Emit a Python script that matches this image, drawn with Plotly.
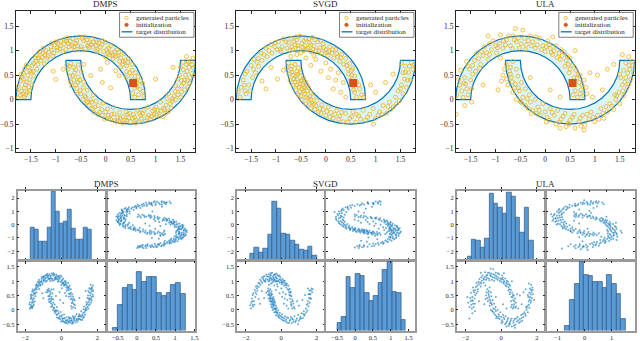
import plotly.graph_objects as go

W, H = 640, 341
SERIF = "Liberation Serif"
BLUE = "#0072BD"
ORANGE = "#EDB120"
RED = "#D95319"
FILL = "#dcf6f8"
BAR = "#5b9bd5"
BAR_EDGE = "#2b5885"
INK = "#262626"
FRAME = "#9a9a9a"

methods = ["DMPS", "SVGD", "ULA"]
legend_labels = ["generated particles", "initialization", "target distribution"]

# target distribution: outline of the two half-annuli
upper_moon_x = [0.8, 0.78, 0.722, 0.626, 0.496, 0.336, 0.15, -0.055, -0.274, -0.5, -0.726, -0.945, -1.15,
                -1.336, -1.496, -1.626, -1.722, -1.78, -1.8, -1.5, -1.485, -1.44, -1.366, -1.266, -1.143,
                -1.0, -0.842, -0.674, -0.5, -0.326, -0.158, 0.0, 0.143, 0.266, 0.366, 0.44, 0.485, 0.5, 0.8]
upper_moon_y = [0, 0.226, 0.445, 0.65, 0.836, 0.996, 1.126, 1.222, 1.28, 1.3, 1.28, 1.222, 1.126,
                0.996, 0.836, 0.65, 0.445, 0.226, 0, 0, 0.174, 0.342, 0.5, 0.643, 0.766,
                0.866, 0.94, 0.985, 1.0, 0.985, 0.94, 0.866, 0.766, 0.643, 0.5, 0.342, 0.174, 0, 0]
lower_moon_x = [-0.8, -0.78, -0.722, -0.626, -0.496, -0.336, -0.15, 0.055, 0.274, 0.5, 0.726, 0.945, 1.15,
                1.336, 1.496, 1.626, 1.722, 1.78, 1.8, 1.5, 1.485, 1.44, 1.366, 1.266, 1.143,
                1.0, 0.842, 0.674, 0.5, 0.326, 0.158, 0.0, -0.143, -0.266, -0.366, -0.44, -0.485, -0.5, -0.8]
lower_moon_y = [0.8, 0.574, 0.355, 0.15, -0.036, -0.196, -0.326, -0.422, -0.48, -0.5, -0.48, -0.422, -0.326,
                -0.196, -0.036, 0.15, 0.355, 0.574, 0.8, 0.8, 0.626, 0.458, 0.3, 0.157, 0.034,
                -0.066, -0.14, -0.185, -0.2, -0.185, -0.14, -0.066, 0.034, 0.157, 0.3, 0.458, 0.626, 0.8, 0.8]

init_x = [0.55]
init_y = [0.34]

# particles (x1, x2)
dmps_particles = [
    (-1.75, 0.04), (-1.60, 0.10), (-1.69, 0.17), (-1.53, 0.18), (-1.75, 0.27), (-1.61, 0.30), (-1.48, 0.30), (-1.65, 0.42),
    (-1.52, 0.41), (-1.65, 0.54), (-1.44, 0.48), (-1.52, 0.59), (-1.59, 0.71), (-1.38, 0.62), (-1.45, 0.74), (-1.36, 0.72),
    (-1.41, 0.85), (-1.23, 0.73), (-1.28, 0.86), (-1.32, 0.98), (-1.16, 0.88), (-1.20, 1.00), (-1.06, 0.89), (-1.09, 1.01),
    (-1.09, 1.15), (-0.97, 1.01), (-0.96, 1.15), (-0.86, 0.98), (-0.84, 1.13), (-0.83, 1.23), (-0.73, 1.08), (-0.71, 1.19),
    (-0.62, 1.01), (-0.60, 1.15), (-0.54, 1.28), (-0.50, 1.08), (-0.44, 1.20), (-0.41, 1.04), (-0.34, 1.15), (-0.28, 1.24),
    (-0.25, 1.07), (-0.18, 1.18), (-0.18, 0.98), (-0.11, 1.07), (0.00, 1.17), (-0.04, 0.98), (0.06, 1.05), (0.00, 0.87),
    (0.12, 0.95), (0.22, 1.02), (0.15, 0.84), (0.25, 0.90), (0.37, 0.94), (0.28, 0.78), (0.39, 0.80), (0.30, 0.67),
    (0.42, 0.69), (0.53, 0.72), (0.42, 0.57), (0.53, 0.60), (0.41, 0.46), (0.52, 0.48), (0.65, 0.47), (0.51, 0.37),
    (0.63, 0.34), (0.74, 0.33), (0.58, 0.23), (0.69, 0.21), (0.54, 0.13), (0.66, 0.10), (0.77, 0.07),
    (-1.66, 0.12), (-1.54, 0.26), (-1.70, 0.52), (-1.47, 0.70), (-1.34, 0.85), (-1.22, 0.92), (-1.10, 1.08), (-0.98, 1.06),
    (-0.90, 1.20), (-0.75, 1.15), (-0.66, 1.24), (-0.56, 1.10), (-0.38, 1.22), (-0.30, 1.12), (-0.20, 1.10), (-0.08, 1.12),
    (0.05, 0.95), (0.18, 0.98), (0.30, 0.85), (0.46, 0.84),
    (-1.71, 0.09), (-1.57, 0.15), (-1.63, 0.24), (-1.70, 0.38), (-1.56, 0.50), (-1.62, 0.64), (-1.49, 0.56), (-1.40, 0.78),
    (-1.26, 0.95), (-1.14, 0.97), (-1.02, 1.12), (-0.92, 1.04), (-0.79, 1.20), (-0.68, 1.10), (-0.47, 1.25), (-0.33, 1.07),
    (-0.14, 1.16), (0.08, 0.92), (0.20, 0.88), (0.35, 0.78),
    (-1.78, 0.20), (-1.63, 0.06), (-1.58, 0.36), (-1.68, 0.46), (-1.45, 0.58), (-1.55, 0.66), (-1.30, 0.80), (-1.38, 0.90),
    (-1.18, 0.84), (-1.25, 1.05), (-1.04, 0.95), (-1.00, 1.18), (-0.90, 1.10), (-0.80, 1.02), (-0.77, 1.26), (-0.64, 1.08),
    (-0.58, 1.20), (-0.50, 1.02), (-0.42, 1.28), (-0.36, 1.10), (-0.24, 1.18), (-0.16, 1.02), (-0.06, 1.20), (0.02, 1.02),
    (0.10, 1.10), (0.14, 0.90), (0.26, 0.96), (0.34, 0.72), (0.44, 0.76), (0.48, 0.55), (0.60, 0.55), (0.58, 0.40),
    (0.70, 0.38), (0.62, 0.27), (0.75, 0.17), (0.58, 0.05),
    (-1.05, 0.58), (-0.85, 0.62), (-1.00, 0.41), (-0.44, 0.72), (-0.30, 0.49), (-0.10, 0.62), (0.03, 0.76), (0.20, 0.59),
    (0.27, 0.49), (-0.07, 0.35), (0.10, 0.24), (1.00, 0.42), (1.35, 0.66), (1.62, 0.88), (1.75, 0.85),
    (-0.70, 0.74), (-0.55, 0.71), (-0.76, 0.62), (-0.60, 0.61), (-0.49, 0.57), (-0.66, 0.49), (-0.55, 0.46), (-0.70, 0.36),
    (-0.56, 0.35), (-0.44, 0.36), (-0.58, 0.23), (-0.45, 0.25), (-0.57, 0.11), (-0.37, 0.19), (-0.42, 0.08), (-0.46, 0.00),
    (-0.25, 0.10), (-0.30, 0.00), (-0.33, -0.12), (-0.19, -0.03), (-0.22, -0.15), (-0.24, -0.26), (-0.05, -0.07), (-0.08, -0.20),
    (-0.07, -0.32), (0.04, -0.19), (0.05, -0.32), (0.15, -0.16), (0.17, -0.29), (0.17, -0.43), (0.28, -0.26), (0.29, -0.38),
    (0.34, -0.48), (0.41, -0.25), (0.46, -0.37), (0.50, -0.45), (0.56, -0.30), (0.61, -0.42), (0.64, -0.22), (0.70, -0.33),
    (0.79, -0.44), (0.77, -0.22), (0.86, -0.32), (0.85, -0.15), (0.94, -0.23), (1.02, -0.32), (1.01, -0.15), (1.10, -0.23),
    (1.20, -0.28), (1.10, -0.05), (1.21, -0.11), (1.31, -0.17), (1.23, 0.02), (1.33, -0.03), (1.26, 0.12), (1.37, 0.07),
    (1.50, 0.05), (1.39, 0.17), (1.52, 0.16), (1.40, 0.28), (1.52, 0.28), (1.65, 0.26), (1.52, 0.39), (1.64, 0.39),
    (1.48, 0.50), (1.60, 0.50), (1.73, 0.54), (1.55, 0.61), (1.67, 0.66), (1.73, 0.71), (1.55, 0.76),
    (-0.62, 0.55), (-0.52, 0.40), (-0.68, 0.28), (-0.40, 0.05), (-0.28, -0.05), (-0.15, -0.12), (0.00, -0.25), (0.10, -0.40),
    (0.22, -0.45), (0.35, -0.35), (0.48, -0.28), (0.60, -0.48), (0.72, -0.38), (0.90, -0.40), (1.05, -0.22), (1.15, -0.35),
    (1.40, 0.00), (1.58, 0.40), (1.70, 0.78), (1.62, 0.72),
    (-0.73, 0.68), (-0.64, 0.40), (-0.51, 0.18), (-0.36, -0.04), (-0.12, -0.26), (0.06, -0.38), (0.26, -0.44), (0.42, -0.42),
    (0.54, -0.38), (0.68, -0.27), (0.83, -0.36), (0.97, -0.30), (1.16, -0.18), (1.29, -0.08), (1.45, 0.10), (1.58, 0.20),
    (1.69, 0.45), (1.45, 0.42), (1.63, 0.58), (1.76, 0.65),
    (-0.78, 0.70), (-0.64, 0.66), (-0.72, 0.48), (-0.60, 0.30), (-0.50, 0.12), (-0.38, -0.06), (-0.26, -0.18), (-0.16, -0.30),
    (-0.02, -0.40), (0.12, -0.30), (0.24, -0.36), (0.38, -0.42), (0.44, -0.30), (0.58, -0.36), (0.66, -0.45), (0.74, -0.28),
    (0.92, -0.34), (0.98, -0.20), (1.08, -0.34), (1.18, -0.20), (1.26, -0.25), (1.34, 0.02), (1.44, 0.22), (1.56, 0.34),
    (1.68, 0.34), (1.50, 0.66), (1.66, 0.76), (1.76, 0.48),
]

svgd_particles = [
    (-1.72, 0.05), (-1.60, 0.12), (-1.70, 0.25), (-1.55, 0.30), (-1.66, 0.40), (-1.47, 0.45), (-1.58, 0.58), (-1.41, 0.55),
    (-1.50, 0.70), (-1.35, 0.68), (-1.44, 0.82), (-1.28, 0.80), (-1.30, 0.95), (-1.18, 0.88), (-1.20, 1.05), (-1.08, 0.95),
    (-1.10, 1.12), (-0.98, 1.02), (-0.95, 1.18), (-0.88, 1.08), (-0.85, 1.24), (-0.78, 1.05), (-0.75, 1.16), (-0.70, 1.25),
    (-0.66, 1.02), (-0.62, 1.12), (-0.58, 1.22), (-0.55, 1.05), (-0.52, 1.30), (-0.48, 1.15), (-0.45, 1.00), (-0.42, 1.10),
    (-0.40, 1.24), (-0.36, 1.05), (-0.33, 1.16), (-0.30, 0.98), (-0.27, 1.27), (-0.24, 1.10), (-0.20, 1.00), (-0.16, 1.18),
    (-0.12, 1.06), (-0.08, 0.95), (-0.05, 1.14), (0.00, 1.02), (0.04, 0.90), (0.08, 1.08), (0.12, 0.95), (0.16, 0.85),
    (0.20, 1.02), (0.24, 0.88), (0.28, 0.78), (0.32, 0.92), (0.36, 0.72), (0.40, 0.84), (0.44, 0.62), (0.48, 0.74),
    (0.46, 0.52), (0.52, 0.60), (0.50, 0.40), (0.58, 0.48), (0.55, 0.28), (0.62, 0.36), (0.58, 0.15), (0.68, 0.22),
    (0.62, 0.05), (0.72, 0.10),
    (-0.64, 1.18), (-0.56, 1.10), (-0.44, 1.20), (-0.38, 1.02), (-0.30, 1.12), (-0.22, 1.22), (-0.14, 1.00), (-0.04, 1.06),
    (0.06, 0.98), (-0.50, 0.96), (-0.72, 1.00), (-0.90, 0.98), (-1.02, 1.08), (-1.36, 0.84), (-1.62, 0.18),
    (-1.76, 0.16), (-1.64, 0.30), (-1.52, 0.18), (-1.62, 0.52), (-1.45, 0.62), (-1.38, 0.76), (-1.24, 0.92), (-1.14, 1.00),
    (-1.02, 1.16), (-0.92, 1.02), (-0.80, 1.18), (-0.68, 1.08), (-0.60, 1.28), (-0.46, 1.06), (-0.34, 1.24), (-0.26, 1.02),
    (-0.10, 1.20), (0.02, 0.96), (0.14, 1.02), (0.22, 0.94), (0.30, 0.86), (0.42, 0.70), (0.54, 0.64), (0.52, 0.50),
    (0.66, 0.30), (0.56, 0.20), (0.76, 0.05), (-0.58, 0.92), (-0.24, 0.90), (-0.70, 0.88),
    (-1.28, 0.38), (-1.10, 0.66), (-0.97, 0.42), (-1.20, 0.22), (-0.85, 0.60),
    (-0.40, 0.85), (-0.20, 0.82), (0.00, 0.75), (-0.30, 0.70), (0.10, 0.62), (0.25, 0.55), (-0.10, 0.58), (0.20, 0.40),
    (0.05, 0.45), (0.35, 0.35), (0.15, 0.22), (0.30, 0.15), (0.40, 0.05), (0.90, 0.30), (1.00, 0.15), (1.20, 0.35),
    (1.35, 0.52),
    (-0.75, 0.75), (-0.62, 0.72), (-0.70, 0.62), (-0.55, 0.65), (-0.65, 0.50), (-0.52, 0.55), (-0.72, 0.40), (-0.58, 0.42),
    (-0.45, 0.45), (-0.66, 0.30), (-0.52, 0.32), (-0.40, 0.36), (-0.60, 0.20), (-0.47, 0.22), (-0.35, 0.25), (-0.55, 0.10),
    (-0.42, 0.12), (-0.30, 0.15), (-0.48, 0.00), (-0.36, 0.03), (-0.25, 0.06), (-0.40, -0.08), (-0.28, -0.06), (-0.18, -0.02),
    (-0.30, -0.18), (-0.20, -0.12), (-0.08, -0.10), (-0.15, -0.25), (-0.05, -0.20), (0.05, -0.15), (0.00, -0.32), (0.10, -0.26),
    (0.15, -0.38), (0.22, -0.22), (0.28, -0.34), (0.35, -0.45), (0.40, -0.28), (0.48, -0.38), (0.55, -0.25), (0.60, -0.46),
    (0.66, -0.33), (0.75, -0.22), (0.80, -0.42), (0.88, -0.30), (0.95, -0.18), (1.00, -0.38), (1.08, -0.25), (1.15, -0.12),
    (1.22, -0.28), (1.28, -0.05), (1.35, -0.15), (1.40, 0.05), (1.48, -0.02), (1.45, 0.18), (1.55, 0.12), (1.52, 0.30),
    (1.62, 0.25), (1.58, 0.42), (1.70, 0.40), (1.55, 0.55), (1.66, 0.55), (1.75, 0.62), (1.60, 0.68), (1.72, 0.75),
    (1.52, 0.75),
    (-0.58, 0.58), (-0.46, 0.30), (-0.38, 0.18), (-0.33, -0.08), (-0.62, 0.36), (-0.50, 0.08), (0.96, -0.50),
    (-0.68, 0.56), (-0.60, 0.48), (-0.54, 0.26), (-0.44, 0.18), (-0.50, 0.38), (-0.38, 0.30), (-0.32, 0.06), (-0.24, -0.10),
    (-0.12, -0.18), (0.02, -0.24), (0.18, -0.30), (0.32, -0.26), (0.52, -0.34), (0.70, -0.40), (1.05, -0.32), (1.30, -0.20),
    (-0.78, 0.66), (-0.68, 0.68), (-0.74, 0.52), (-0.64, 0.42), (-0.56, 0.52), (-0.48, 0.40), (-0.58, 0.30), (-0.44, 0.26),
    (-0.52, 0.16), (-0.40, 0.04), (-0.30, 0.00), (-0.22, -0.20), (-0.10, -0.28), (0.08, -0.36), (0.26, -0.40), (0.44, -0.46),
    (0.62, -0.30), (0.84, -0.36), (1.12, -0.30), (1.25, -0.14), (1.42, -0.08), (1.50, 0.22), (1.64, 0.40), (1.68, 0.68),
    (1.60, 0.56), (1.78, 0.72),
]

ula_particles = [
    (-1.78, 0.10), (-1.65, 0.05), (-1.72, 0.30), (-1.58, 0.22), (-1.85, 0.25), (-1.62, 0.45), (-1.50, 0.40), (-1.70, 0.60),
    (-1.52, 0.62), (-1.40, 0.58), (-1.58, 0.78), (-1.42, 0.80), (-1.30, 0.72), (-1.38, 0.95), (-1.25, 0.90), (-1.15, 0.82),
    (-1.22, 1.08), (-1.08, 1.02), (-0.98, 0.95), (-1.05, 1.20), (-0.92, 1.15), (-0.85, 1.05), (-0.90, 1.32), (-0.78, 1.22),
    (-0.70, 1.10), (-0.65, 1.30), (-0.58, 1.18), (-0.52, 1.05), (-0.45, 1.42), (-0.42, 1.25), (-0.38, 1.12), (-0.30, 1.30),
    (-0.25, 1.18), (-0.20, 1.05), (-0.12, 1.25), (-0.05, 1.10), (0.00, 0.98), (0.05, 1.20), (0.10, 1.05), (0.15, 0.92),
    (0.22, 1.10), (0.28, 0.95), (0.30, 0.82), (0.38, 0.98), (0.42, 0.80), (0.40, 0.68), (0.50, 0.85), (0.55, 0.70),
    (0.48, 0.55), (0.62, 0.60), (0.58, 0.45), (0.70, 0.50), (0.55, 0.30), (0.68, 0.35), (0.78, 0.40), (0.60, 0.18),
    (0.72, 0.20), (0.82, 0.25), (0.65, 0.05), (0.78, 0.08),
    (-1.68, 0.18), (-1.55, 0.10), (-1.64, 0.34), (-1.46, 0.52), (-1.34, 0.84), (-1.18, 0.96), (-1.00, 1.10), (-0.80, 1.12),
    (-0.62, 1.22), (-0.48, 1.14), (-0.34, 1.20), (-0.16, 1.12), (0.02, 1.08), (0.18, 1.00), (0.34, 0.90), (0.46, 0.72),
    (0.64, 0.44), (0.70, 0.12),
    (-1.74, 0.42), (-1.60, 0.32), (-1.48, 0.22), (-1.56, 0.68), (-1.46, 0.70), (-1.32, 0.64), (-1.28, 0.98), (-1.12, 0.92),
    (-1.12, 1.14), (-0.96, 1.06), (-0.84, 1.20), (-0.74, 1.30), (-0.66, 1.04), (-0.54, 1.26), (-0.40, 1.02), (-0.28, 1.10),
    (-0.18, 1.28), (-0.08, 1.02), (0.08, 1.12), (0.12, 0.96), (0.24, 0.86), (0.32, 1.02), (0.44, 0.90), (0.50, 0.62),
    (0.66, 0.52), (0.74, 0.30), (0.56, 0.10), (0.84, 0.12),
    (-1.79, -0.30), (-1.62, -0.12), (-1.48, -0.05), (-1.90, 0.45), (-1.25, 0.30), (-0.88, 0.38), (-1.15, 1.30), (-0.60, 1.45),
    (0.15, 1.28), (0.60, 1.00), (0.90, 0.55), (0.95, 0.05),
    (-0.78, 0.72), (-0.65, 0.78), (-0.72, 0.58), (-0.58, 0.62), (-0.85, 0.50), (-0.68, 0.45), (-0.55, 0.48), (-0.75, 0.30),
    (-0.60, 0.32), (-0.48, 0.35), (-0.65, 0.15), (-0.52, 0.18), (-0.40, 0.22), (-0.58, 0.00), (-0.45, 0.05), (-0.32, 0.10),
    (-0.40, -0.12), (-0.30, -0.05), (-0.20, 0.00), (-0.25, -0.22), (-0.15, -0.15), (-0.05, -0.08), (-0.10, -0.32), (0.00, -0.25),
    (0.10, -0.18), (0.08, -0.42), (0.18, -0.32), (0.25, -0.22), (0.22, -0.50), (0.32, -0.40), (0.40, -0.28), (0.42, -0.55),
    (0.50, -0.42), (0.58, -0.30), (0.60, -0.58), (0.68, -0.45), (0.75, -0.32), (0.80, -0.52), (0.88, -0.40), (0.92, -0.25),
    (1.00, -0.45), (1.05, -0.32), (1.12, -0.18), (1.18, -0.38), (1.25, -0.25), (1.30, -0.08), (1.38, -0.20), (1.42, 0.00),
    (1.50, -0.08), (1.48, 0.15), (1.58, 0.08), (1.55, 0.30), (1.65, 0.25), (1.52, 0.45), (1.62, 0.45), (1.72, 0.42),
    (1.58, 0.60), (1.70, 0.62), (1.78, 0.55), (1.62, 0.75), (1.75, 0.78),
    (-0.70, 0.52), (-0.62, 0.24), (-0.50, -0.04), (-0.34, -0.18), (-0.18, -0.28), (0.04, -0.36), (0.28, -0.46), (0.48, -0.50),
    (0.70, -0.38), (0.96, -0.36), (1.22, -0.14), (1.44, 0.08), (1.60, 0.36), (1.68, 0.70),
    (-0.82, 0.62), (-0.70, 0.66), (-0.78, 0.42), (-0.66, 0.36), (-0.54, 0.24), (-0.48, -0.06), (-0.36, 0.02), (-0.28, -0.28),
    (-0.12, -0.22), (0.02, -0.46), (0.14, -0.26), (0.36, -0.34), (0.46, -0.48), (0.54, -0.36), (0.72, -0.54), (0.84, -0.30),
    (1.08, -0.40), (1.16, -0.28), (1.34, -0.14), (1.40, 0.10), (1.56, 0.18), (1.68, 0.32), (1.76, 0.70), (1.66, 0.54),
    (1.50, 0.52),
    (0.78, -0.62), (0.30, -0.58), (1.15, 0.20), (1.25, 0.62), (1.38, 0.72), (1.55, 0.92), (1.68, 0.88), (1.05, 0.50),
    (-0.95, 0.20), (-0.30, 0.45), (0.10, 0.20), (0.30, 0.05), (1.85, 0.35), (-0.90, 0.85),
]

particles = {"DMPS": dmps_particles, "SVGD": svgd_particles, "ULA": ula_particles}

# marginal histograms: bin edges and counts
dmps_x1_edges = [-1.70, -1.47, -1.25, -1.02, -0.79, -0.57, -0.34, -0.11, 0.11, 0.34, 0.57, 0.79, 1.02, 1.25, 1.47, 1.70]
dmps_x1_counts = [29, 27, 16, 16, 29, 60, 43, 32, 34, 44, 28, 18, 18, 29, 27]
dmps_x2_edges = [-0.63, -0.50, -0.38, -0.25, -0.12, 0.0, 0.13, 0.26, 0.39, 0.51, 0.64, 0.77, 0.89, 1.02, 1.15, 1.27]
dmps_x2_counts = [2, 22, 37, 40, 36, 51, 43, 47, 47, 33, 30, 33, 40, 42, 32]

svgd_x1_edges = [-1.78, -1.53, -1.27, -1.02, -0.76, -0.51, -0.26, 0.0, 0.25, 0.51, 0.76, 1.01, 1.27, 1.52, 1.78, 2.03]
svgd_x1_counts = [6, 11, 7, 10, 22, 51, 45, 23, 22, 17, 14, 9, 8, 12, 4]
svgd_x2_edges = [-0.50, -0.37, -0.24, -0.12, 0.01, 0.14, 0.27, 0.40, 0.52, 0.65, 0.78, 0.91, 1.04, 1.16, 1.29, 1.42]
svgd_x2_counts = [7, 12, 47, 37, 50, 48, 33, 26, 30, 42, 53, 60, 34, 33, 9]

ula_x1_edges = [-1.90, -1.65, -1.41, -1.16, -0.91, -0.67, -0.42, -0.17, 0.08, 0.32, 0.57, 0.82, 1.06, 1.31, 1.56, 1.81]
ula_x1_counts = [3, 18, 17, 11, 19, 58, 50, 46, 41, 59, 56, 37, 24, 46, 17]
ula_x2_edges = [-0.72, -0.55, -0.38, -0.20, -0.03, 0.14, 0.31, 0.48, 0.66, 0.83, 1.00, 1.17, 1.34, 1.52]
ula_x2_counts = [4, 27, 41, 60, 49, 48, 43, 43, 37, 49, 41, 32, 10]

hists = {
    "DMPS": (dmps_x1_edges, dmps_x1_counts, dmps_x2_edges, dmps_x2_counts),
    "SVGD": (svgd_x1_edges, svgd_x1_counts, svgd_x2_edges, svgd_x2_counts),
    "ULA": (ula_x1_edges, ula_x1_counts, ula_x2_edges, ula_x2_counts),
}

# tick values
top_xticks = [-1.5, -1, -0.5, 0, 0.5, 1, 1.5]
top_yticks = [-1, -0.5, 0, 0.5, 1, 1.5]
x1_ticks = [-2, 0, 2]
row1_ticks = [-2, -1, 0, 1, 2]
x2_ticks = [-0.5, 0, 0.5, 1, 1.5]
br_ticks = {"DMPS": [-0.5, 0, 0.5, 1, 1.5], "SVGD": [-0.5, 0, 0.5, 1, 1.5], "ULA": [-1, 0, 1]}


def fx(a, b):
    return [a / W, b / W]


def fy(top, bottom):
    return [1 - bottom / H, 1 - top / H]


def names(k):
    if k == 1:
        return "x", "y", "xaxis", "yaxis"
    return f"x{k}", f"y{k}", f"xaxis{k}", f"yaxis{k}"


def top_axis(**kw):
    d = dict(showgrid=False, zeroline=False, showline=True, mirror="allticks", linecolor=INK, linewidth=0.6,
             ticks="inside", ticklen=3, tickwidth=0.6, tickcolor=INK,
             tickfont=dict(family=SERIF, size=7.5, color=INK))
    d.update(kw)
    return d


def pair_axis(**kw):
    d = dict(showgrid=False, zeroline=False, showline=True, mirror="allticks", linecolor=FRAME, linewidth=1.5,
             ticks="inside", ticklen=2, tickwidth=0.5, tickcolor=INK,
             tickfont=dict(family=SERIF, size=6.5, color=INK))
    d.update(kw)
    return d


fig = go.Figure()
layout = {}
shapes = []
annotations = []

top_cols = [(14, 195), (236, 416.7), (457.3, 637.7)]

for i, m in enumerate(methods):
    xa, ya, xk, yk = names(i + 1)
    pts = particles[m]
    fig.add_trace(go.Scatter(x=upper_moon_x + [None] + lower_moon_x, y=upper_moon_y + [None] + lower_moon_y,
                             mode="lines", fill="toself", fillcolor=FILL, line=dict(color=BLUE, width=1.2),
                             hoverinfo="skip", xaxis=xa, yaxis=ya))
    fig.add_trace(go.Scatter(x=[p[0] for p in pts], y=[p[1] for p in pts], mode="markers",
                             marker=dict(symbol="circle-open", size=4, color=ORANGE, line=dict(width=0.8)),
                             xaxis=xa, yaxis=ya))
    fig.add_trace(go.Scatter(x=init_x, y=init_y, mode="markers", marker=dict(symbol="square", size=8, color=RED),
                             xaxis=xa, yaxis=ya))
    layout[xk] = top_axis(domain=fx(*top_cols[i]), range=[-1.8, 1.8], tickvals=top_xticks, anchor=ya)
    layout[yk] = top_axis(domain=fy(11, 153), range=[-1.07, 1.81], tickvals=top_yticks, anchor=xa)

    # legend box drawn in pixels, inside the top-right corner of the panel
    R = top_cols[i][1] - 1.5
    L = R - 75
    T = 12.5
    shapes.append(dict(type="rect", xref="paper", yref="paper", x0=L / W, x1=R / W, y0=1 - (T + 25) / H,
                       y1=1 - T / H, line=dict(color=INK, width=0.6), fillcolor="white", layer="above"))
    rows_y = [T + 5.5, T + 12.5, T + 19.5]
    cy = rows_y[0]
    shapes.append(dict(type="circle", xref="paper", yref="paper", x0=(L + 5.3) / W, x1=(L + 8.7) / W,
                       y0=1 - (cy + 1.7) / H, y1=1 - (cy - 1.7) / H, line=dict(color=ORANGE, width=0.8),
                       layer="above"))
    cy = rows_y[1]
    shapes.append(dict(type="circle", xref="paper", yref="paper", x0=(L + 5.3) / W, x1=(L + 8.7) / W,
                       y0=1 - (cy + 1.7) / H, y1=1 - (cy - 1.7) / H, line=dict(color=RED, width=0.8),
                       fillcolor=RED, layer="above"))
    cy = rows_y[2]
    shapes.append(dict(type="line", xref="paper", yref="paper", x0=(L + 2) / W, x1=(L + 13) / W,
                       y0=1 - cy / H, y1=1 - cy / H, line=dict(color=BLUE, width=1.3), layer="above"))
    for lab, cy in zip(legend_labels, rows_y):
        annotations.append(dict(text=lab, x=(L + 14.5) / W, y=1 - cy / H, xref="paper", yref="paper",
                                showarrow=False, xanchor="left", yanchor="middle",
                                font=dict(family=SERIF, size=7, color=INK)))

# pair plots
groups = {
    "DMPS": dict(lx=(15.7, 104.3), rx=(106.5, 195.0), x1=[-2.43, 2.45], trx=[-0.7, 1.5], brx=[-0.76, 1.53]),
    "SVGD": dict(lx=(237.0, 325.0), rx=(327.0, 416.0), x1=[-2.5, 2.45], trx=[-0.72, 1.68], brx=[-0.80, 1.67]),
    "ULA": dict(lx=(458.3, 546.7), rx=(549.0, 638.0), x1=[-2.5, 2.43], trx=[-0.75, 1.84], brx=[-1.40, 1.86]),
}
row1 = (191.7, 261.7)
row2 = (262.5, 332.5)
row1_range = [-2.67, 2.57]
row2_range = [-0.72, 1.71]
count_range = [0, 61]

for g, m in enumerate(methods):
    G = groups[m]
    pts = particles[m]
    v1 = [p[0] for p in pts]
    v2 = [p[1] for p in pts]
    e1, c1, e2, c2 = hists[m]
    tl, tr, bl, br = 4 + 4 * g, 5 + 4 * g, 6 + 4 * g, 7 + 4 * g
    ov = 16 + g

    # top-left: histogram of x1
    xa, ya, xk, yk = names(tl)
    fig.add_trace(go.Bar(x=[(a + b) / 2 for a, b in zip(e1[:-1], e1[1:])], y=c1,
                         width=[b - a for a, b in zip(e1[:-1], e1[1:])],
                         marker=dict(color=BAR, line=dict(color=BAR_EDGE, width=0.7)),
                         hoverinfo="skip", xaxis=xa, yaxis=ya))
    layout[xk] = pair_axis(domain=fx(*G["lx"]), range=G["x1"], tickvals=x1_ticks, showticklabels=False, anchor=ya)
    layout[yk] = pair_axis(domain=fy(*row1), range=count_range, ticks="", showticklabels=False, anchor=xa)
    _, oya, _, oyk = names(ov)
    fig.add_trace(go.Scatter(x=[None], y=[None], mode="markers", hoverinfo="skip", xaxis=xa, yaxis=oya))
    layout[oyk] = pair_axis(overlaying=ya, anchor=xa, side="left", range=row1_range, tickvals=row1_ticks)

    # top-right: x2 vs x1
    xa, ya, xk, yk = names(tr)
    fig.add_trace(go.Scatter(x=v2, y=v1, mode="markers", marker=dict(size=2, color=BLUE, opacity=0.6),
                             hoverinfo="skip", xaxis=xa, yaxis=ya))
    layout[xk] = pair_axis(domain=fx(*G["rx"]), range=G["trx"], tickvals=x2_ticks, showticklabels=False, anchor=ya)
    layout[yk] = pair_axis(domain=fy(*row1), range=row1_range, tickvals=row1_ticks, showticklabels=False, anchor=xa)

    # bottom-left: x1 vs x2
    xa, ya, xk, yk = names(bl)
    fig.add_trace(go.Scatter(x=v1, y=v2, mode="markers", marker=dict(size=2, color=BLUE, opacity=0.6),
                             hoverinfo="skip", xaxis=xa, yaxis=ya))
    layout[xk] = pair_axis(domain=fx(*G["lx"]), range=G["x1"], tickvals=x1_ticks, anchor=ya)
    layout[yk] = pair_axis(domain=fy(*row2), range=row2_range, tickvals=x2_ticks, anchor=xa)

    # bottom-right: histogram of x2
    xa, ya, xk, yk = names(br)
    fig.add_trace(go.Bar(x=[(a + b) / 2 for a, b in zip(e2[:-1], e2[1:])], y=c2,
                         width=[b - a for a, b in zip(e2[:-1], e2[1:])],
                         marker=dict(color=BAR, line=dict(color=BAR_EDGE, width=0.7)),
                         hoverinfo="skip", xaxis=xa, yaxis=ya))
    layout[xk] = pair_axis(domain=fx(*G["rx"]), range=G["brx"], tickvals=br_ticks[m], anchor=ya)
    layout[yk] = pair_axis(domain=fy(*row2), range=count_range, ticks="", showticklabels=False, anchor=xa)

for i, m in enumerate(methods):
    a, b = top_cols[i]
    annotations.append(dict(text=m, x=(a + b) / 2 / W, y=1 - 4.5 / H, xref="paper", yref="paper",
                            showarrow=False, xanchor="center", yanchor="middle",
                            font=dict(family=SERIF, size=9, color=INK)))
    G = groups[m]
    annotations.append(dict(text=m, x=(G["lx"][1] + G["rx"][0]) / 2 / W, y=1 - 185 / H, xref="paper",
                            yref="paper", showarrow=False, xanchor="center", yanchor="middle",
                            font=dict(family=SERIF, size=9, color=INK)))

fig.update_layout(width=W, height=H, margin=dict(l=0, r=0, t=0, b=0), paper_bgcolor="white",
                  plot_bgcolor="white", bargap=0, barmode="overlay", hovermode=False, showlegend=False,
                  annotations=annotations, shapes=shapes, **layout)

fig.write_html("out.html", config={"displayModeBar": False},
               post_script="document.body.style.margin='0px';")
